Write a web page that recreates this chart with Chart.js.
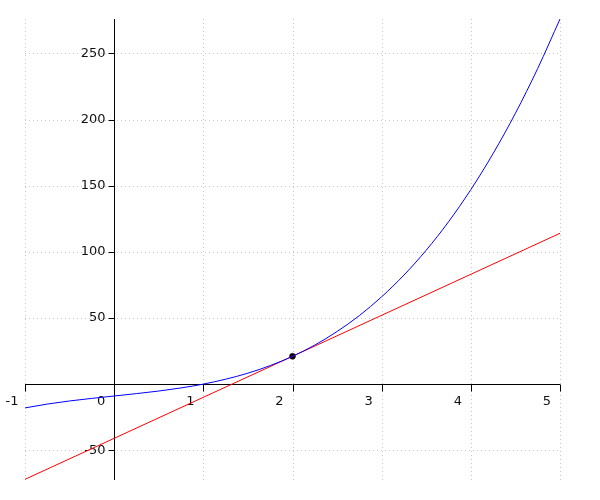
<!DOCTYPE html>
<html>
<head>
<meta charset="utf-8">
<script src="https://cdn.jsdelivr.net/npm/chart.js@4"></script>
<style>
  body { margin: 0; background: #fff; }
</style>
</head>
<body>
<canvas id="plot" width="600" height="500"></canvas>
<script>
// curve values
const curveX = [-1, -0.75, -0.5, -0.25, 0, 0.25, 0.5, 0.75, 1, 1.25, 1.5, 1.75, 2,
                2.25, 2.5, 2.75, 3, 3.25, 3.5, 3.75, 4, 4.25, 4.5, 4.75, 5];
const curveY = [-18, -15.1, -12.75, -10.8, -9, -7.2, -5.25, -2.9, 0, 3.7, 8.25, 14, 21,
                29.5, 39.75, 51.8, 66, 82.4, 101.25, 122.7, 147, 174.3, 204.75, 238.6, 276];

// tangent line end points
const tangentX = [-1, 5];
const tangentY = [-72, 114];

// point of tangency
const pointX = [2];
const pointY = [21];

// tick labels
const xTicks = [-1, 0, 1, 2, 3, 4, 5];
const yTicks = [-50, 50, 100, 150, 200, 250];

const toXY = (xs, ys) => xs.map((x, i) => ({ x: x, y: ys[i] }));

// grid, axes and tick labels drawn from the chart's own scales
const axesPlugin = {
    id: 'crossAxes',
    beforeDatasetsDraw(chart) {
        const ctx = chart.ctx;
        const area = chart.chartArea;
        const xs = chart.scales.x;
        const ys = chart.scales.y;
        const x0 = Math.round(xs.getPixelForValue(0)) + 0.5;
        const y0 = Math.round(ys.getPixelForValue(0)) + 0.5;

        ctx.save();
        // dotted grid
        ctx.strokeStyle = '#c8c8c8';
        ctx.lineWidth = 1;
        ctx.setLineDash([1, 3]);
        xTicks.forEach(v => {
            const px = Math.round(xs.getPixelForValue(v)) + 0.5;
            ctx.beginPath();
            ctx.moveTo(px, area.top);
            ctx.lineTo(px, area.bottom);
            ctx.stroke();
        });
        yTicks.forEach(v => {
            const py = Math.round(ys.getPixelForValue(v)) + 0.5;
            ctx.beginPath();
            ctx.moveTo(area.left, py);
            ctx.lineTo(area.right, py);
            ctx.stroke();
        });
        ctx.setLineDash([]);

        // axis lines
        ctx.strokeStyle = '#000';
        ctx.beginPath();
        ctx.moveTo(area.left, y0);
        ctx.lineTo(area.right, y0);
        ctx.moveTo(x0, area.top);
        ctx.lineTo(x0, area.bottom);
        ctx.stroke();

        // tick marks
        ctx.beginPath();
        xTicks.forEach(v => {
            const px = Math.round(xs.getPixelForValue(v)) + 0.5;
            ctx.moveTo(px, y0);
            ctx.lineTo(px, y0 + 7);
        });
        yTicks.forEach(v => {
            const py = Math.round(ys.getPixelForValue(v)) + 0.5;
            ctx.moveTo(x0, py);
            ctx.lineTo(x0 - 6, py);
        });
        ctx.stroke();

        // labels
        ctx.fillStyle = '#111';
        ctx.font = '13px "DejaVu Sans"';
        ctx.textAlign = 'center';
        ctx.textBaseline = 'middle';
        xTicks.forEach(v => {
            ctx.fillText(String(v), xs.getPixelForValue(v) - 13, y0 + 17);
        });
        ctx.textAlign = 'right';
        yTicks.forEach(v => {
            ctx.fillText(String(v), x0 - 9, ys.getPixelForValue(v));
        });
        ctx.restore();
    }
};

new Chart(document.getElementById('plot').getContext('2d'), {
    type: 'scatter',
    data: {
        datasets: [
            {
                label: 'f',
                data: toXY(curveX, curveY),
                showLine: true,
                borderColor: '#0000ff',
                borderWidth: 1,
                pointRadius: 0,
                cubicInterpolationMode: 'monotone'
            },
            {
                label: 'tangent',
                data: toXY(tangentX, tangentY),
                showLine: true,
                borderColor: '#ff0000',
                borderWidth: 1,
                pointRadius: 0
            },
            {
                label: 'point',
                data: toXY(pointX, pointY),
                backgroundColor: '#000',
                borderColor: '#000',
                pointRadius: 3,
                borderWidth: 0.5
            }
        ]
    },
    options: {
        responsive: false,
        animation: false,
        layout: { padding: { left: 25, right: 40, top: 19, bottom: 20 } },
        plugins: {
            legend: { display: false },
            tooltip: { enabled: false }
        },
        scales: {
            x: { type: 'linear', min: -1, max: 5, display: false },
            y: { type: 'linear', min: -72.5, max: 276, display: false }
        }
    },
    plugins: [axesPlugin]
});
</script>
</body>
</html>
